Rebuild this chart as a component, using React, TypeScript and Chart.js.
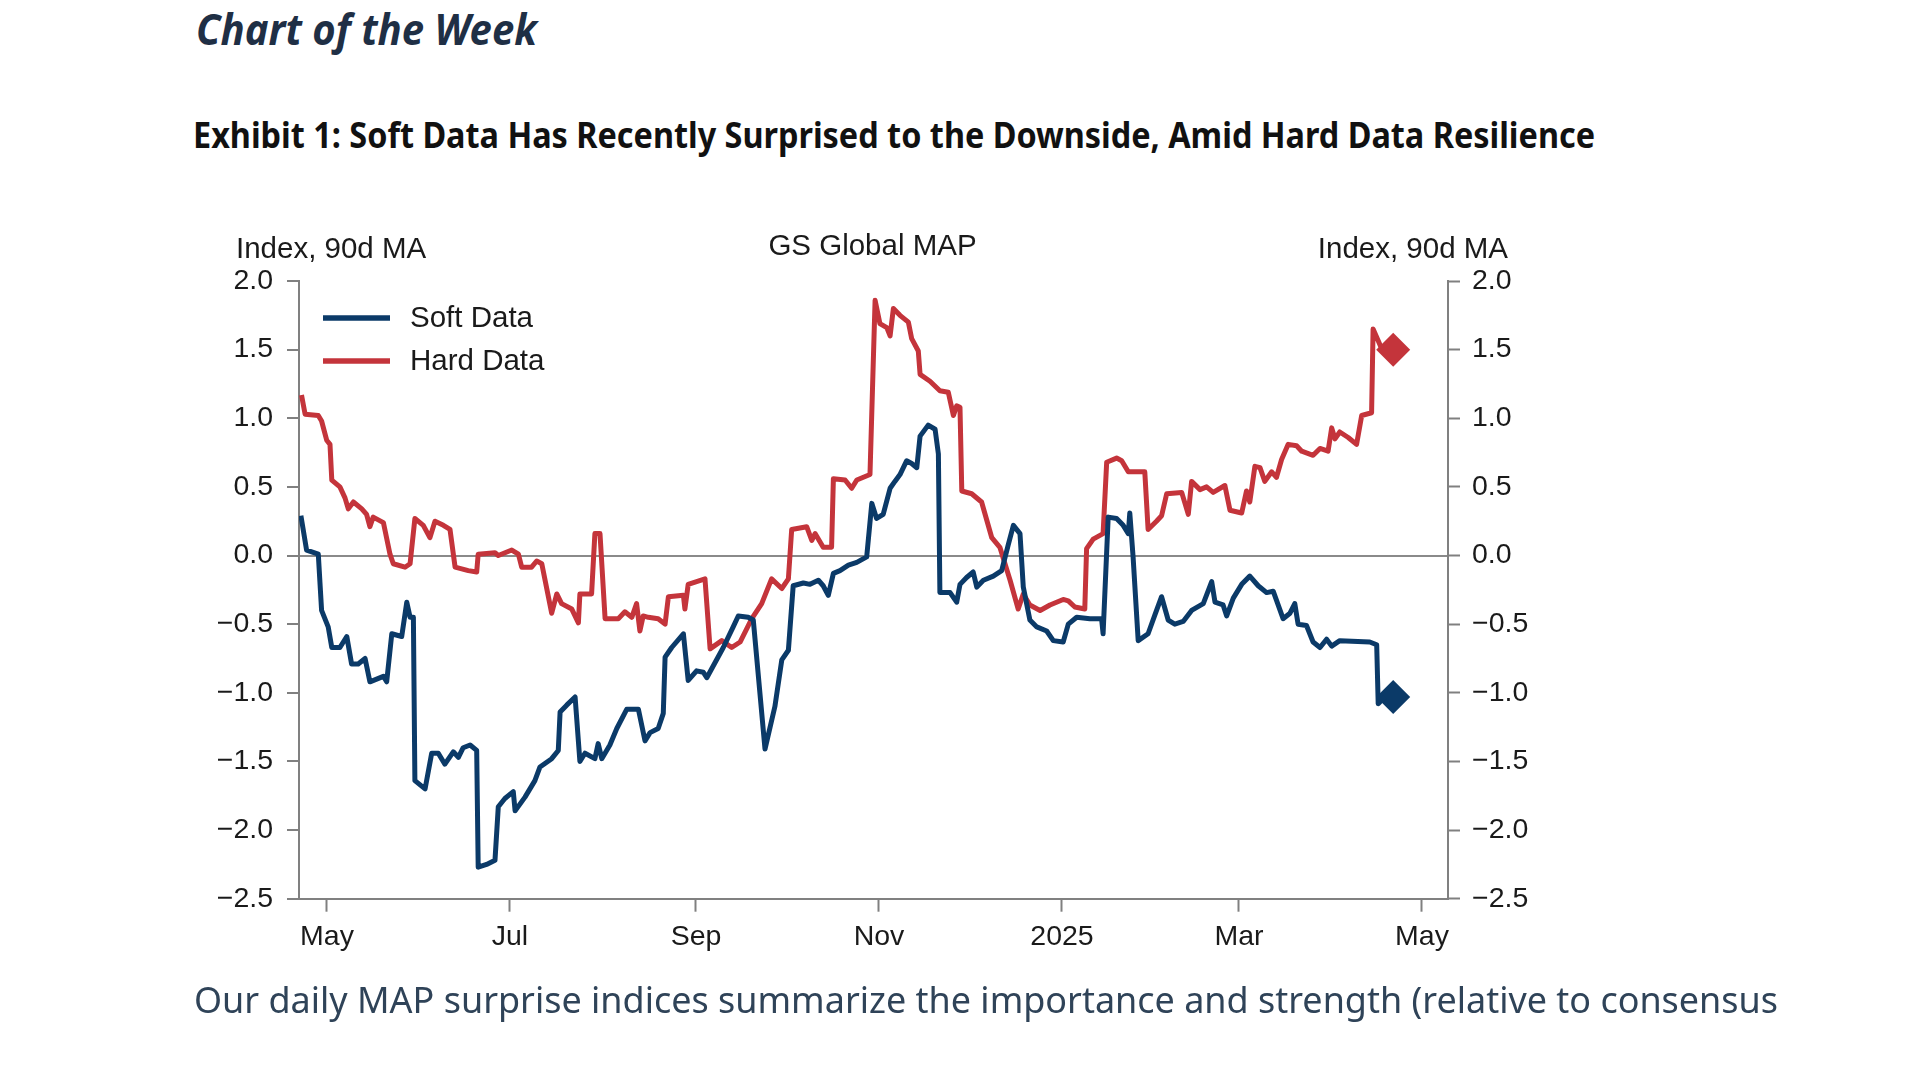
import React, { useEffect, useLayoutEffect, useRef } from "react";
import { Chart, registerables, Plugin } from "chart.js";

Chart.register(...registerables);

// x values are days counted from 1 May 2024
const monthTickDays = [0, 61, 123, 184, 245, 304, 365];
const monthTickLabels = ["May", "Jul", "Sep", "Nov", "2025", "Mar", "May"];

const softDays = [
  -8.7, -6.8, -2.9, -1.8, 0.4, 1.6, 4.3, 6.6, 8.2, 10.4, 12.7, 14.3, 18.8, 19.9, 21.6, 24.9, 26.6, 27.7, 28.8,
  29.3, 32.7, 34.9, 37.1, 39.3, 42.1, 43.8, 45.4, 47.7, 49.9, 50.4, 53.2, 56.0, 57.1, 59.3, 62.1, 62.7, 66.0,
  69.3, 71.0, 74.9, 77.1, 77.7, 79.9, 82.7, 84.3, 86.0, 89.3, 90.4, 91.6, 94.3, 96.6, 99.9, 103.8, 106.0,
  107.7, 110.4, 112.1, 112.7, 114.9, 118.8, 120.4, 123.2, 125.4, 126.6, 132.1, 135.4, 137.1, 140.4, 142.1,
  146.0, 149.3, 151.6, 153.8, 155.4, 158.8, 161.0, 163.8, 165.4, 167.1, 168.8, 171.0, 173.8, 176.6, 179.9,
  181.6, 183.2, 185.4, 187.7, 189.3, 191.0, 193.2, 194.9, 196.6, 197.7, 200.4, 202.7, 203.8, 204.3, 207.7,
  209.9, 211.0, 213.2, 215.4, 216.6, 218.8, 222.1, 224.9, 227.1, 228.8, 231.0, 232.1, 234.3, 236.6, 239.9,
  242.1, 245.4, 247.1, 249.9, 254.3, 258.2, 258.7, 260.4, 263.2, 265.4, 267.1, 267.6, 268.7, 270.4, 273.7,
  276.0, 278.2, 280.4, 282.6, 285.4, 288.2, 292.1, 294.9, 296.0, 298.7, 299.9, 302.1, 304.9, 307.6, 310.4,
  313.2, 315.4, 318.7, 321.0, 322.6, 323.7, 326.5, 328.7, 331.0, 333.2, 334.9, 337.6, 347.6, 349.9, 350.4,
  352.6,
];
const softValues = [
  0.29, 0.04, 0.01, -0.4, -0.52, -0.67, -0.67, -0.59, -0.79, -0.79, -0.75, -0.92, -0.88, -0.92, -0.57, -0.59,
  -0.34, -0.45, -0.45, -1.64, -1.7, -1.44, -1.44, -1.52, -1.43, -1.47, -1.4, -1.38, -1.42, -2.27, -2.25,
  -2.22, -1.83, -1.77, -1.72, -1.86, -1.76, -1.64, -1.54, -1.48, -1.42, -1.14, -1.09, -1.03, -1.5, -1.44,
  -1.48, -1.37, -1.48, -1.38, -1.26, -1.12, -1.12, -1.35, -1.29, -1.26, -1.15, -0.74, -0.67, -0.57, -0.91,
  -0.84, -0.85, -0.89, -0.67, -0.52, -0.44, -0.45, -0.47, -1.41, -1.1, -0.76, -0.69, -0.22, -0.2, -0.21,
  -0.18, -0.22, -0.29, -0.13, -0.11, -0.07, -0.05, -0.01, 0.38, 0.27, 0.3, 0.49, 0.54, 0.59, 0.69, 0.67,
  0.64, 0.87, 0.95, 0.92, 0.74, -0.27, -0.27, -0.34, -0.21, -0.16, -0.12, -0.23, -0.18, -0.15, -0.11, 0.08,
  0.22, 0.16, -0.23, -0.47, -0.52, -0.55, -0.62, -0.63, -0.5, -0.45, -0.46, -0.46, -0.57, 0.28, 0.27, 0.22,
  0.16, 0.31, -0.01, -0.62, -0.57, -0.43, -0.3, -0.47, -0.5, -0.48, -0.4, -0.35, -0.19, -0.34, -0.36, -0.44,
  -0.31, -0.21, -0.15, -0.22, -0.27, -0.26, -0.46, -0.42, -0.35, -0.5, -0.51, -0.63, -0.67, -0.61, -0.66,
  -0.62, -0.63, -0.65, -1.08, -1.03,
];

const hardDays = [
  -8.5, -7.3, -2.9, -1.8, -0.1, 1.0, 1.6, 4.3, 6.0, 7.1, 8.8, 11.6, 13.2, 14.3, 15.4, 18.8, 21.0, 22.1, 26.0,
  27.7, 29.3, 32.1, 34.3, 36.0, 38.8, 41.0, 42.7, 47.1, 49.9, 50.4, 56.0, 57.1, 61.6, 63.8, 64.9, 68.2, 69.9,
  71.6, 74.9, 76.6, 78.2, 81.6, 83.8, 84.3, 88.2, 89.3, 91.0, 92.7, 97.1, 99.3, 101.6, 103.2, 104.3, 105.4,
  107.1, 110.4, 112.7, 113.8, 118.8, 119.3, 120.4, 126.0, 127.7, 131.6, 134.9, 137.7, 141.6, 144.9, 148.2,
  151.6, 153.8, 154.9, 159.9, 161.6, 162.7, 165.4, 168.2, 168.8, 172.7, 174.9, 176.6, 181.0, 182.7, 184.3,
  186.6, 187.7, 188.8, 191.0, 193.8, 194.9, 197.1, 197.7, 201.0, 204.3, 207.1, 208.8, 209.9, 211.0, 211.6,
  214.9, 218.2, 221.6, 224.3, 227.7, 230.4, 232.1, 234.3, 237.7, 241.0, 245.4, 247.1, 249.3, 252.6, 253.2,
  255.4, 258.7, 259.9, 263.2, 264.9, 267.1, 272.6, 273.7, 276.5, 278.2, 279.9, 284.9, 287.1, 288.2, 291.0,
  293.2, 295.4, 299.3, 301.0, 304.9, 306.5, 307.6, 309.3, 311.0, 312.6, 314.9, 316.5, 318.2, 320.4, 323.2,
  324.9, 328.7, 331.0, 333.7, 334.9, 336.0, 337.6, 340.4, 343.2, 344.9, 348.2, 348.7, 351.5,
];
const hardValues = [
  1.17, 1.03, 1.02, 0.98, 0.84, 0.81, 0.55, 0.5, 0.42, 0.34, 0.39, 0.34, 0.3, 0.21, 0.28, 0.24, 0.01, -0.06,
  -0.085, -0.06, 0.27, 0.22, 0.13, 0.25, 0.22, 0.19, -0.085, -0.11, -0.12, 0.01, 0.02, 0.0, 0.04, 0.01,
  -0.085, -0.085, -0.04, -0.06, -0.42, -0.28, -0.35, -0.39, -0.49, -0.28, -0.28, 0.16, 0.16, -0.46, -0.46,
  -0.41, -0.45, -0.35, -0.55, -0.44, -0.45, -0.46, -0.5, -0.3, -0.29, -0.39, -0.21, -0.17, -0.68, -0.62,
  -0.67, -0.63, -0.46, -0.35, -0.17, -0.24, -0.17, 0.19, 0.21, 0.11, 0.16, 0.06, 0.06, 0.56, 0.55, 0.49,
  0.55, 0.59, 1.86, 1.69, 1.66, 1.6, 1.8, 1.75, 1.7, 1.58, 1.49, 1.32, 1.27, 1.2, 1.19, 1.02, 1.09, 1.08,
  0.47, 0.45, 0.39, 0.13, 0.06, -0.18, -0.39, -0.28, -0.36, -0.4, -0.36, -0.32, -0.33, -0.375, -0.39, 0.05,
  0.12, 0.16, 0.68, 0.71, 0.69, 0.61, 0.61, 0.19, 0.25, 0.29, 0.45, 0.46, 0.3, 0.54, 0.48, 0.5, 0.46, 0.51,
  0.33, 0.31, 0.47, 0.39, 0.65, 0.64, 0.54, 0.61, 0.57, 0.7, 0.81, 0.8, 0.76, 0.73, 0.78, 0.76, 0.93, 0.85,
  0.9, 0.86, 0.81, 1.02, 1.04, 1.65, 1.51,
];

// latest readings, drawn as diamonds
const latestDay = [355.4];
const softLatest = [-1.03];
const hardLatest = [1.5];

const SOFT_COLOR = "#0b3a68";
const HARD_COLOR = "#c4343b";
const AXIS_COLOR = "#808080";
const TEXT_COLOR = "#1a1a1a";
const CHART_FONT = "'Liberation Sans', Arial, sans-serif";

const toPoints = (xs: number[], ys: number[]) => xs.map((x, i) => ({ x, y: ys[i] }));

const formatTick = (v: number) => (v < 0 ? "\u2212" + Math.abs(v).toFixed(1) : v.toFixed(1));

// axis captions and title above the plot area
const headerPlugin: Plugin<"line"> = {
  id: "headerLabels",
  afterDraw(chart) {
    const { ctx, chartArea } = chart;
    ctx.save();
    ctx.fillStyle = TEXT_COLOR;
    ctx.font = `29.5px ${CHART_FONT}`;
    ctx.textBaseline = "alphabetic";
    ctx.textAlign = "left";
    ctx.fillText("Index, 90d MA", chartArea.left - 63, chartArea.top - 23);
    ctx.textAlign = "right";
    ctx.fillText("Index, 90d MA", chartArea.right + 60, chartArea.top - 23);
    ctx.textAlign = "center";
    ctx.fillText("GS Global MAP", (chartArea.left + chartArea.right) / 2 - 1, chartArea.top - 26);
    ctx.restore();
  },
};

// legend stacked inside the top-left of the plot
const insideLegend: Plugin<"line"> = {
  id: "insideLegend",
  afterDraw(chart) {
    const { ctx, chartArea } = chart;
    const items = chart.data.datasets.filter((d) => d.label);
    ctx.save();
    ctx.font = `29.5px ${CHART_FONT}`;
    ctx.textBaseline = "middle";
    ctx.textAlign = "left";
    items.forEach((d, i) => {
      const y = chartArea.top + 37 + i * 43;
      ctx.strokeStyle = d.borderColor as string;
      ctx.lineWidth = 5.5;
      ctx.lineCap = "butt";
      ctx.beginPath();
      ctx.moveTo(chartArea.left + 24, y);
      ctx.lineTo(chartArea.left + 91, y);
      ctx.stroke();
      ctx.fillStyle = TEXT_COLOR;
      ctx.fillText(d.label as string, chartArea.left + 111, y + 1);
    });
    ctx.restore();
  },
};

function FitLine({
  text,
  left,
  top,
  width,
  font,
  color,
}: {
  text: string;
  left: number;
  top: number;
  width: number;
  font: string;
  color: string;
}) {
  const ref = useRef<HTMLSpanElement | null>(null);

  useLayoutEffect(() => {
    const fit = () => {
      const el = ref.current;
      if (!el) return;
      el.style.transform = "none";
      const w = el.getBoundingClientRect().width;
      if (w > 0) el.style.transform = `scaleX(${width / w})`;
    };
    fit();
    document.fonts?.ready.then(fit);
  }, [text, width]);

  return (
    <span
      ref={ref}
      style={{
        position: "absolute",
        left,
        top,
        whiteSpace: "nowrap",
        transformOrigin: "0 0",
        font,
        lineHeight: 1,
        color,
      }}
    >
      {text}
    </span>
  );
}

function MapChart() {
  const chartRef = useRef<HTMLCanvasElement | null>(null);
  const chartInstance = useRef<Chart | null>(null);

  useEffect(() => {
    if (!chartRef.current) return;
    if (chartInstance.current) chartInstance.current.destroy();

    const yAxisBase = {
      type: "linear" as const,
      min: -2.5,
      max: 2.0,
      border: { display: true, color: AXIS_COLOR, width: 2 },
      ticks: {
        stepSize: 0.5,
        color: TEXT_COLOR,
        font: { size: 28.5, family: CHART_FONT },
        callback: (v: string | number) => formatTick(Number(v)),
      },
    };

    const diamond = (value: number[], color: string) => ({
      label: "",
      data: toPoints(latestDay, value),
      showLine: false,
      pointStyle: "rectRot" as const,
      pointRadius: 17,
      pointBorderWidth: 0,
      pointBackgroundColor: color,
      borderColor: color,
      yAxisID: "y",
    });

    chartInstance.current = new Chart(chartRef.current, {
      type: "line",
      data: {
        datasets: [
          {
            label: "Soft Data",
            data: toPoints(softDays, softValues),
            borderColor: SOFT_COLOR,
            backgroundColor: SOFT_COLOR,
            borderWidth: 5,
            borderJoinStyle: "round",
            pointRadius: 0,
            tension: 0,
            yAxisID: "y",
          },
          {
            label: "Hard Data",
            data: toPoints(hardDays, hardValues),
            borderColor: HARD_COLOR,
            backgroundColor: HARD_COLOR,
            borderWidth: 5,
            borderJoinStyle: "round",
            pointRadius: 0,
            tension: 0,
            yAxisID: "y",
          },
          diamond(softLatest, SOFT_COLOR),
          diamond(hardLatest, HARD_COLOR),
        ],
      },
      options: {
        responsive: true,
        maintainAspectRatio: false,
        animation: false,
        layout: { padding: { top: 81, left: 0, right: 0, bottom: 0 } },
        plugins: {
          legend: { display: false },
          tooltip: { enabled: false },
        },
        scales: {
          x: {
            type: "linear",
            min: -9.33,
            max: 373.67,
            border: { display: true, color: AXIS_COLOR, width: 2 },
            grid: {
              drawOnChartArea: false,
              tickLength: 13,
              tickWidth: 2,
              tickColor: AXIS_COLOR,
              color: AXIS_COLOR,
            },
            afterBuildTicks: (axis) => {
              axis.ticks = monthTickDays.map((value) => ({ value }));
            },
            afterFit: (scale) => {
              scale.height = 101.3;
            },
            ticks: {
              autoSkip: false,
              maxRotation: 0,
              padding: 8,
              color: TEXT_COLOR,
              font: { size: 28.5, family: CHART_FONT },
              callback: (_v, index) => monthTickLabels[index],
            },
          },
          y: {
            ...yAxisBase,
            position: "left",
            afterFit: (scale) => {
              scale.width = 119;
            },
            grid: {
              drawOnChartArea: true,
              color: (c) => (c.tick && c.tick.value === 0 ? "#8a8a8a" : "rgba(0,0,0,0)"),
              lineWidth: 2,
              tickLength: 12,
              tickWidth: 2,
              tickColor: AXIS_COLOR,
            },
            ticks: { ...yAxisBase.ticks, padding: 14 },
          },
          y2: {
            ...yAxisBase,
            position: "right",
            afterFit: (scale) => {
              scale.width = 132;
            },
            grid: {
              drawOnChartArea: false,
              tickLength: 12,
              tickWidth: 2,
              tickColor: AXIS_COLOR,
              color: AXIS_COLOR,
            },
            ticks: { ...yAxisBase.ticks, padding: 12 },
          },
        },
      },
      plugins: [headerPlugin, insideLegend],
    });

    return () => {
      if (chartInstance.current) {
        chartInstance.current.destroy();
        chartInstance.current = null;
      }
    };
  }, []);

  return (
    <div style={{ position: "absolute", left: 180, top: 200, width: 1400, height: 800 }}>
      <canvas ref={chartRef} />
    </div>
  );
}

export default function App() {
  return (
    <div
      style={{
        position: "absolute",
        left: 0,
        top: 0,
        width: 1920,
        height: 1080,
        background: "#ffffff",
        overflow: "hidden",
      }}
    >
      <FitLine
        text="Chart of the Week"
        left={196}
        top={7}
        width={341}
        font="italic bold 43px 'Noto Sans', sans-serif"
        color="#1f2f45"
      />
      <FitLine
        text="Exhibit 1: Soft Data Has Recently Surprised to the Downside, Amid Hard Data Resilience"
        left={193}
        top={117}
        width={1402}
        font="bold 35px 'Noto Sans', sans-serif"
        color="#111111"
      />
      <MapChart />
      <FitLine
        text="Our daily MAP surprise indices summarize the importance and strength (relative to consensus"
        left={194}
        top={980}
        width={1584}
        font="37px 'Noto Sans', sans-serif"
        color="#2f4358"
      />
    </div>
  );
}
